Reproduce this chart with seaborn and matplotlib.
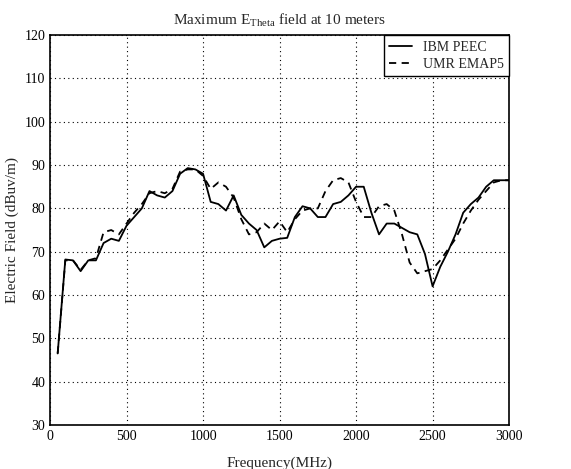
import pandas as pd
import seaborn as sb
import matplotlib
matplotlib.use("Agg")
import matplotlib.pyplot as plt

freq = [50, 100, 150, 200, 250, 300, 350, 400, 450, 500, 550, 600, 650, 700, 750, 800,
        850, 900, 950, 1000, 1050, 1100, 1150, 1200, 1250, 1300, 1350, 1400, 1450, 1500,
        1550, 1600, 1650, 1700, 1750, 1800, 1850, 1900, 1950, 2000, 2050, 2100, 2150, 2200,
        2250, 2300, 2350, 2400, 2450, 2500, 2550, 2600, 2650, 2700, 2750, 2800, 2850, 2900,
        2950, 3000]

ibm_peec = [46.5, 68.2, 68.0, 65.5, 68.0, 68.0, 72.0, 73.0, 72.5, 76.0, 78.0, 80.0, 84.0,
            83.0, 82.5, 84.0, 88.0, 89.3, 89.0, 88.0, 81.5, 81.0, 79.5, 83.0, 78.5, 76.5,
            75.0, 71.0, 72.5, 73.0, 73.2, 78.0, 80.5, 80.0, 78.0, 78.0, 81.0, 81.5, 83.0,
            85.0, 85.0, 79.0, 74.0, 76.5, 76.5, 75.5, 74.5, 74.0, 69.5, 62.0, 66.5, 70.0,
            74.0, 79.0, 81.0, 82.5, 85.0, 86.5, 86.5, 86.5]

umr_emap5 = [46.5, 68.0, 68.0, 65.8, 68.0, 68.5, 74.5, 75.0, 74.0, 76.5, 79.0, 81.0, 83.5,
             84.0, 83.5, 84.5, 88.5, 89.0, 89.0, 87.5, 84.5, 86.0, 85.0, 82.5, 77.5, 74.0,
             74.5, 76.5, 75.0, 77.0, 74.5, 77.5, 79.5, 80.0, 80.0, 84.0, 86.5, 87.0, 86.0,
             81.5, 78.0, 78.0, 80.5, 81.0, 79.5, 74.0, 67.5, 65.0, 65.5, 66.0, 68.0, 70.5,
             73.0, 76.5, 79.5, 82.0, 84.0, 86.0, 86.5, 86.5]

df = pd.DataFrame({"Frequency": freq * 2,
                   "Field": ibm_peec + umr_emap5,
                   "Source": ["IBM PEEC"] * len(freq) + ["UMR EMAP5"] * len(freq)})

sb.set_style("white")
plt.rcParams["font.family"] = ["Liberation Serif", "DejaVu Serif"]
plt.rcParams["mathtext.fontset"] = "custom"
plt.rcParams["mathtext.rm"] = "Liberation Serif"

fig = plt.figure(figsize=(5.71, 4.69), dpi=100)
ax = fig.add_axes([0.0876, 0.094, 0.804, 0.831])
sb.lineplot(data=df, x="Frequency", y="Field", style="Source", color="black",
            dashes={"IBM PEEC": "", "UMR EMAP5": (4, 3)}, linewidth=1.3, ax=ax)

ax.set_xlim(0, 3000)
ax.set_ylim(30, 120)
ax.set_xticks(range(0, 3001, 500))
ax.set_yticks(range(30, 121, 10))
ax.grid(True, linestyle=(0, (1, 3)), color="black", linewidth=0.8)
ax.tick_params(direction="in", length=4, color="black", labelsize=10, labelcolor="black")
for s in ax.spines.values():
    s.set_color("black")
    s.set_linewidth(1.2)
ax.set_xlabel("Frequency(MHz)", fontsize=11, labelpad=10)
ax.set_ylabel("Electric Field (dBuv/m)", fontsize=11)
ax.set_title(r"Maximum E$_{\mathrm{Theta}}$ field at 10 meters", fontsize=11, pad=8)

leg = ax.legend(loc="upper right", frameon=True, fancybox=False, fontsize=10,
                handlelength=1.6, borderaxespad=0, labelspacing=0.3)
leg.get_frame().set_edgecolor("black")
leg.get_frame().set_linewidth(1.0)
leg.get_frame().set_alpha(1)

fig.savefig("out.png", dpi=100)
